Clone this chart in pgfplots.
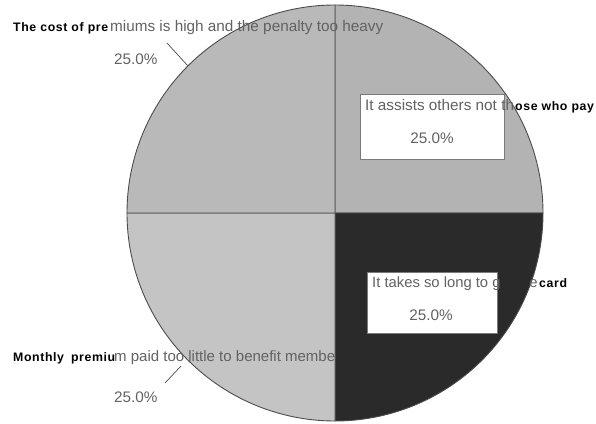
\documentclass[border=0pt]{standalone}
\usepackage{fontspec}
\setmainfont{Liberation Sans}
\usepackage{pgfplots}
\usepackage{pgfplotstable}
\pgfplotsset{compat=1.18}

% slice fills and outline
\definecolor{assists}{HTML}{B3B3B3}
\definecolor{card}{HTML}{2A2A2A}
\definecolor{monthly}{HTML}{C4C4C4}
\definecolor{cost}{HTML}{B9B9B9}
\definecolor{edge}{HTML}{4C4C4C}
\definecolor{lbl}{HTML}{626262}
\definecolor{boxedge}{HTML}{7A7A7A}

% shares of answers, clockwise from twelve o'clock
\pgfplotstableread{
reason  value
assists 25
card    25
monthly 25
cost    25
}\piedata

\newcommand{\graytext}{\fontsize{15.3}{17}\selectfont\color{lbl}}
\newcommand{\boldtext}{\fontsize{12.3}{14}\selectfont\bfseries\addfontfeatures{LetterSpace=5}\color{black}}
\newcommand{\pct}[1]{\pgfmathprintnumber[fixed,fixed zerofill,precision=1,assume math mode=true]{#1}\%}

\begin{document}
\begin{tikzpicture}
\pgfplotstablegetelem{0}{value}\of\piedata \let\vA\pgfplotsretval
\pgfplotstablegetelem{1}{value}\of\piedata \let\vB\pgfplotsretval
\pgfplotstablegetelem{2}{value}\of\piedata \let\vC\pgfplotsretval
\pgfplotstablegetelem{3}{value}\of\piedata \let\vD\pgfplotsretval
\pgfmathsetmacro\aA{90}
\pgfmathsetmacro\aB{\aA-3.6*\vA}
\pgfmathsetmacro\aC{\aB-3.6*\vB}
\pgfmathsetmacro\aD{\aC-3.6*\vC}
\pgfmathsetmacro\aE{\aD-3.6*\vD}
\def\R{208pt}
\begin{axis}[
  hide axis, scale only axis,
  width=596pt, height=423pt,
  xmin=0, xmax=596, ymin=0, ymax=423,
  y dir=reverse, clip=false]

% slices
\filldraw[fill=assists, draw=edge, line width=0.9pt]
  (axis cs:335,213) -- ++(\aA:\R) arc[start angle=\aA, end angle=\aB, radius=\R] -- cycle;
\filldraw[fill=card, draw=edge, line width=0.9pt]
  (axis cs:335,213) -- ++(\aB:\R) arc[start angle=\aB, end angle=\aC, radius=\R] -- cycle;
\filldraw[fill=monthly, draw=edge, line width=0.9pt]
  (axis cs:335,213) -- ++(\aC:\R) arc[start angle=\aC, end angle=\aD, radius=\R] -- cycle;
\filldraw[fill=cost, draw=edge, line width=0.9pt]
  (axis cs:335,213) -- ++(\aD:\R) arc[start angle=\aD, end angle=\aE, radius=\R] -- cycle;

% label boxes on the right-hand slices
\filldraw[fill=white, draw=boxedge, line width=0.7pt]
  (axis cs:360,94) rectangle (axis cs:504,159);
\filldraw[fill=white, draw=boxedge, line width=0.7pt]
  (axis cs:367,272) rectangle (axis cs:497,333);

% leader lines
\draw[edge, line width=0.7pt] (axis cs:167,43) -- (axis cs:188,66);
\draw[edge, line width=0.7pt] (axis cs:165,383) -- (axis cs:181,366);

% top-left slice
\node[anchor=base west, inner sep=0pt] at (axis cs:13,31.5) {\boldtext The cost of pre};
\node[anchor=base west, inner sep=0pt] at (axis cs:110,31.5) {\graytext miums is high and the penalty too heavy};
\node[anchor=base west, inner sep=0pt] at (axis cs:114,64) {\graytext \pct{\vD}};

% top-right slice
\node[anchor=base west, inner sep=0pt] at (axis cs:365,110) {\graytext It assists others not th};
\node[anchor=base west, inner sep=0pt] at (axis cs:515,110) {\boldtext ose who pay};
\node[anchor=base, inner sep=0pt] at (axis cs:432,143) {\graytext \pct{\vA}};

% bottom-right slice
\node[anchor=base west, inner sep=0pt] at (axis cs:372,287)
  {\fontsize{14.8}{16}\selectfont\color{lbl}It takes so long to g{\color{card}et th}e};
\node[anchor=base west, inner sep=0pt] at (axis cs:539,287) {\boldtext card};
\node[anchor=base, inner sep=0pt] at (axis cs:431,320) {\graytext \pct{\vB}};

% bottom-left slice
\node[anchor=base west, inner sep=0pt] at (axis cs:13,361) {\boldtext Monthly\hspace{3pt} premiu};
\node[anchor=base west, inner sep=0pt] at (axis cs:114,361)
  {\fontsize{15}{17}\selectfont\color{lbl}m paid too little to benefit membe{\color{card}rs}};
\node[anchor=base west, inner sep=0pt] at (axis cs:114,402) {\graytext \pct{\vC}};
\end{axis}
\pgfresetboundingbox
\useasboundingbox (current axis.south west) rectangle (current axis.north east);
\end{tikzpicture}
\end{document}
